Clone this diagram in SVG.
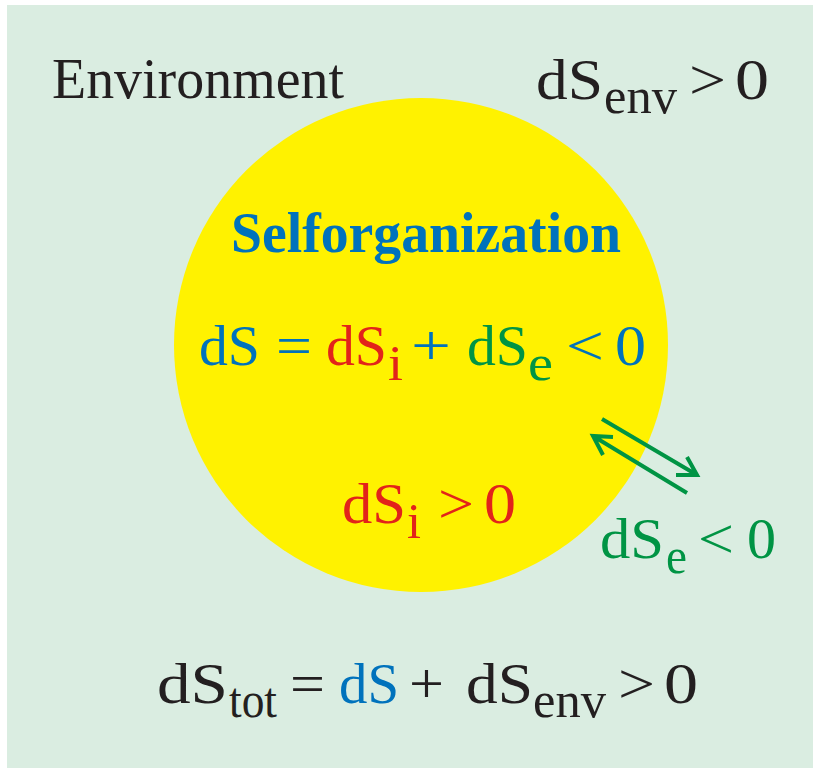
<svg xmlns="http://www.w3.org/2000/svg" width="813" height="768" viewBox="0 0 813 768">
<defs>
<style>
text{font-family:"Liberation Serif","Times New Roman",serif;font-size:58px;fill:#231f20}
.sub{font-size:50px}
.b{fill:#0072bc}.r{fill:#e2231a}.g{fill:#009444}
.arr{stroke:#009444;stroke-width:4;fill:none;stroke-linecap:butt}
</style>
</defs>
<rect x="7" y="5" width="806" height="763" fill="#daede1"/>
<g id="system">
<circle cx="421" cy="345" r="247" fill="#fff200"/>
<text x="231" y="252" class="b" font-weight="bold" font-size="55" textLength="390" lengthAdjust="spacingAndGlyphs">Selforganization</text>
<g id="formula-ds">
<text class="b" x="199" y="365" textLength="61" lengthAdjust="spacingAndGlyphs">dS</text>
<text class="b" x="276" y="365" textLength="36" lengthAdjust="spacingAndGlyphs">=</text>
<text class="r" x="326" y="365" textLength="61" lengthAdjust="spacingAndGlyphs">dS</text>
<text class="r sub" x="388" y="380" textLength="15" lengthAdjust="spacingAndGlyphs">i</text>
<text class="b" x="411" y="365" textLength="40" lengthAdjust="spacingAndGlyphs">+</text>
<text class="g" x="467" y="365" textLength="61" lengthAdjust="spacingAndGlyphs">dS</text>
<text class="g sub" x="528" y="380" textLength="25" lengthAdjust="spacingAndGlyphs">e</text>
<text class="b" x="566" y="365" textLength="38" lengthAdjust="spacingAndGlyphs">&lt;</text>
<text class="b" x="615" y="365" textLength="31" lengthAdjust="spacingAndGlyphs">0</text>
</g>
<g id="formula-dsi">
<text class="r" x="342" y="523" textLength="64" lengthAdjust="spacingAndGlyphs">dS</text>
<text class="r sub" x="407" y="538" textLength="14" lengthAdjust="spacingAndGlyphs">i</text>
<text class="r" x="438" y="523" textLength="36" lengthAdjust="spacingAndGlyphs">&gt;</text>
<text class="r" x="484" y="523" textLength="32" lengthAdjust="spacingAndGlyphs">0</text>
</g>
</g>
<g id="environment">
<text x="52" y="98" font-size="55" textLength="292" lengthAdjust="spacingAndGlyphs">Environment</text>
<g id="formula-dsenv">
<text x="536" y="99" textLength="67" lengthAdjust="spacingAndGlyphs">dS</text>
<text class="sub" x="604" y="113" textLength="73" lengthAdjust="spacingAndGlyphs">env</text>
<text x="689" y="99" textLength="37" lengthAdjust="spacingAndGlyphs">&gt;</text>
<text x="735" y="99" font-size="62" textLength="34" lengthAdjust="spacingAndGlyphs">0</text>
</g>
<g id="formula-dse">
<text class="g" x="600" y="558" textLength="64" lengthAdjust="spacingAndGlyphs">dS</text>
<text class="g sub" x="666" y="573" textLength="21" lengthAdjust="spacingAndGlyphs">e</text>
<text class="g" x="698" y="558" textLength="36" lengthAdjust="spacingAndGlyphs">&lt;</text>
<text class="g" x="747" y="558" textLength="29" lengthAdjust="spacingAndGlyphs">0</text>
</g>
<g id="formula-dstot">
<text x="157" y="703" textLength="71" lengthAdjust="spacingAndGlyphs">dS</text>
<text class="sub" x="229" y="717" textLength="48" lengthAdjust="spacingAndGlyphs">tot</text>
<text x="290" y="703" textLength="35" lengthAdjust="spacingAndGlyphs">=</text>
<text class="b" x="339" y="703" textLength="60" lengthAdjust="spacingAndGlyphs">dS</text>
<text x="409" y="703" textLength="35" lengthAdjust="spacingAndGlyphs">+</text>
<text x="466" y="703" textLength="67" lengthAdjust="spacingAndGlyphs">dS</text>
<text class="sub" x="533" y="717" textLength="73" lengthAdjust="spacingAndGlyphs">env</text>
<text x="618" y="703" textLength="37" lengthAdjust="spacingAndGlyphs">&gt;</text>
<text x="664" y="703" font-size="62" textLength="34" lengthAdjust="spacingAndGlyphs">0</text>
</g>
</g>
<g id="connectors">
<path class="arr" d="M602,419 L697,475 M687,457 L697,475 L676,475"/>
<path class="arr" d="M687,493 L593,436 M613,437 L593,436 L603,455"/>
</g>
</svg>
